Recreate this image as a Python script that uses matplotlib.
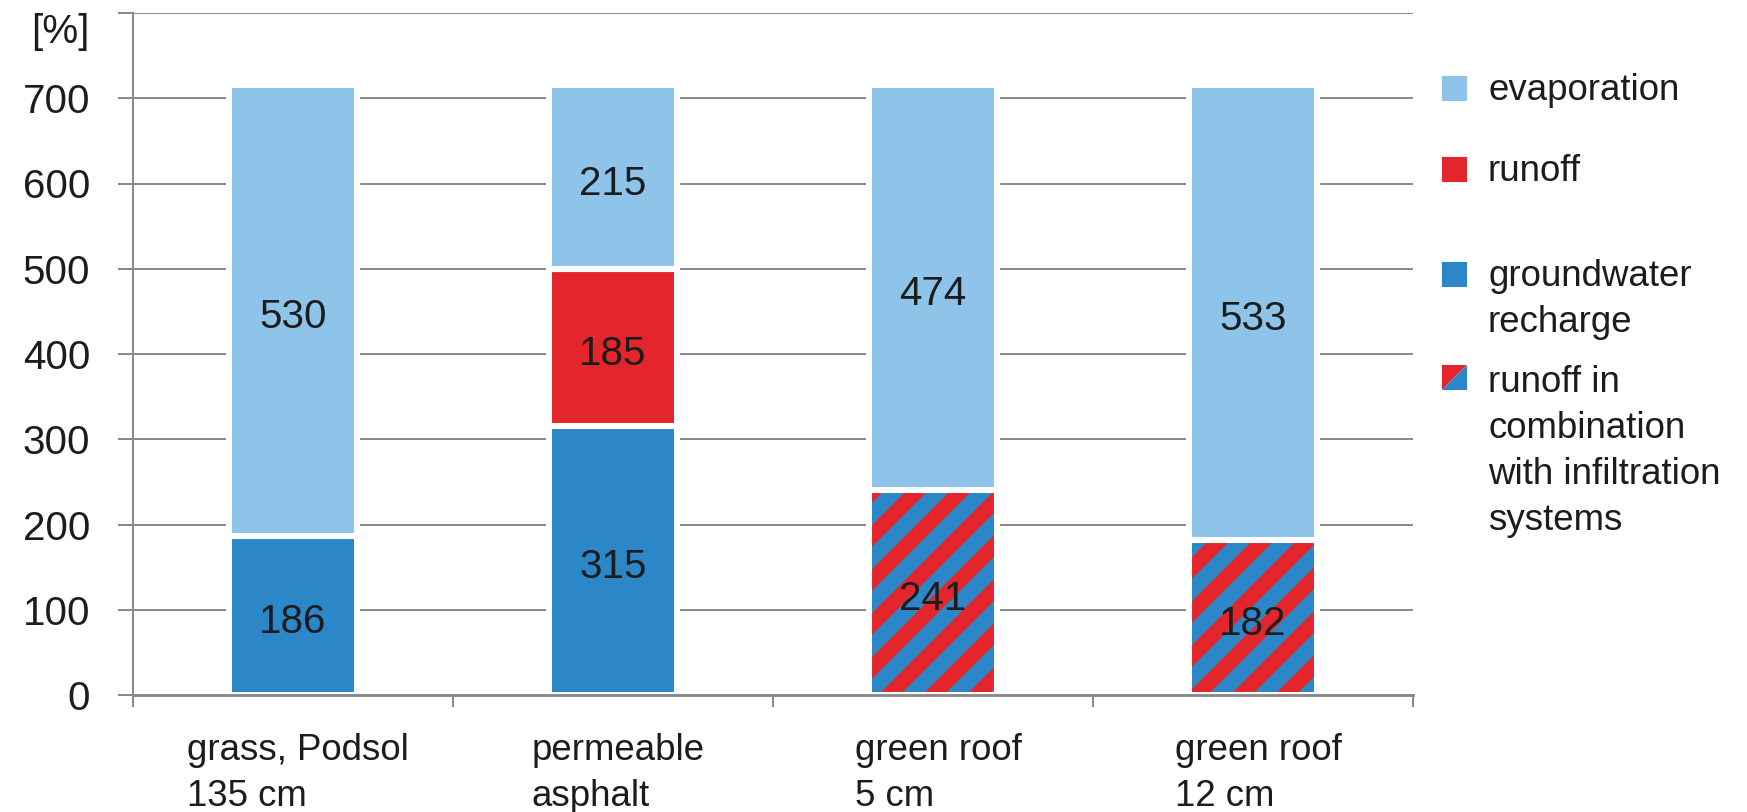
import numpy as np
import matplotlib
matplotlib.use("Agg")
import matplotlib.pyplot as plt
from matplotlib.patches import Rectangle, Polygon
from matplotlib.transforms import ScaledTranslation

# ---- data -----------------------------------------------------------
categories = ["grass, Podsol\n135 cm", "permeable\nasphalt",
              "green roof\n5 cm", "green roof\n12 cm"]
groundwater = [186, 315, 0, 0]
runoff = [0, 185, 0, 0]
runoff_infiltration = [0, 0, 241, 182]
evaporation = [530, 215, 474, 533]

legend_labels = ["evaporation", "runoff", "groundwater\nrecharge",
                 "runoff in\ncombination\nwith infiltration\nsystems"]
y_ticks = [0, 100, 200, 300, 400, 500, 600, 700, 800]
y_unit = "[%]"

# ---- style ----------------------------------------------------------
C_EVAP = "#8ec4e9"
C_RUN = "#e2262b"
C_GW = "#2b87c8"
C_GRID = "#8a8a8a"
C_TEXT = "#1c1c1c"

W, H, DPI = 1747, 812, 264
plt.rcParams["font.family"] = ["Liberation Sans", "DejaVu Sans"]
plt.rcParams["hatch.linewidth"] = 4.2

fig = plt.figure(figsize=(W / DPI, H / DPI), dpi=DPI)
fig.patch.set_facecolor("white")
ax = fig.add_axes([133 / W, 1 - 695 / H, (1413 - 133) / W, (695 - 13) / H])
ax.set_axisbelow(True)

x = np.arange(len(categories))
bw = 0.40
edge = dict(edgecolor="white", linewidth=1.65)

gw = np.array(groundwater, float)
ro = np.array(runoff, float)
ri = np.array(runoff_infiltration, float)
ev = np.array(evaporation, float)

# groundwater recharge (bottom)
ax.bar(x, gw, bw, color=C_GW, **edge, zorder=2)
# runoff stacked on groundwater
ax.bar(x, ro, bw, bottom=gw, color=C_RUN, **edge, zorder=2)
# combined runoff / infiltration: striped fill, then white outline
ax.bar(x, ri, bw, bottom=gw + ro, facecolor=C_GW, edgecolor=C_RUN,
       linewidth=0, hatch="//", zorder=2)
ax.bar(x, ri, bw, bottom=gw + ro, fill=False, **edge, zorder=2.1)
# evaporation on top
base_ev = gw + ro + ri
ax.bar(x, ev, bw, bottom=base_ev, color=C_EVAP, **edge, zorder=2)

# value labels at segment centres
num_fs = 11
for series, bottoms in [(gw, np.zeros_like(gw)), (ro, gw), (ri, gw + ro),
                        (ev, base_ev)]:
    for xi, v, b in zip(x, series, bottoms):
        if v > 0:
            ax.annotate(f"{int(v)}", (xi, b + v / 2), xytext=(0, -1.8),
                        textcoords="offset points", ha="center",
                        va="center", fontsize=num_fs, color=C_TEXT,
                        zorder=5)

# ---- axes -----------------------------------------------------------
ax.set_xlim(-0.5, len(categories) - 0.5)
ax.set_ylim(0, 800)
ax.set_yticks(y_ticks)
ax.set_yticklabels([str(t) if t < 800 else "" for t in y_ticks],
                   fontsize=num_fs, color=C_TEXT)
ax.tick_params(axis="y", length=4.1, width=0.55, color=C_GRID, pad=7.6)
ax.yaxis.grid(True, color=C_GRID, linewidth=0.55)

ax.set_xticks(x)
ax.set_xticklabels(categories, fontsize=10, color=C_TEXT,
                   multialignment="left", linespacing=1.38)
ax.set_xticks(np.arange(len(categories) + 1) - 0.5, minor=True)
ax.tick_params(axis="x", which="major", length=0, pad=10.5)
ax.tick_params(axis="x", which="minor", length=3.4, width=0.55,
               color=C_GRID)
shift = ScaledTranslation(5 / DPI, 0, fig.dpi_scale_trans)
for lbl in ax.get_xticklabels():
    lbl.set_transform(lbl.get_transform() + shift)

for s in ["top", "right"]:
    ax.spines[s].set_visible(False)
ax.spines["left"].set_color(C_GRID)
ax.spines["left"].set_linewidth(0.55)
ax.spines["bottom"].set_color(C_GRID)
ax.spines["bottom"].set_linewidth(0.8)

fig.text(90 / W, 1 - 32 / H, y_unit, ha="right", va="center",
         fontsize=num_fs, color=C_TEXT)

# ---- legend ---------------------------------------------------------
marker_y = [88, 169, 274, 377]
text_top = [73, 154, 259, 365]
sq = 25
for lab, my, ty, kind in zip(legend_labels, marker_y, text_top,
                             ["evap", "run", "gw", "mix"]):
    x0, y0 = 1442 / W, 1 - (my + sq / 2) / H
    w_, h_ = sq / W, sq / H
    if kind == "mix":
        fig.patches.append(Polygon([[x0, y0], [x0, y0 + h_], [x0 + w_, y0 + h_]],
                                   closed=True, facecolor=C_RUN,
                                   edgecolor="none",
                                   transform=fig.transFigure))
        fig.patches.append(Polygon([[x0, y0], [x0 + w_, y0], [x0 + w_, y0 + h_]],
                                   closed=True, facecolor=C_GW,
                                   edgecolor="none",
                                   transform=fig.transFigure))
    else:
        col = {"evap": C_EVAP, "run": C_RUN, "gw": C_GW}[kind]
        fig.patches.append(Rectangle((x0, y0), w_, h_, facecolor=col,
                                     edgecolor="none",
                                     transform=fig.transFigure))
    fig.text(1488 / W, 1 - ty / H, lab, ha="left", va="top",
             fontsize=10, color=C_TEXT, linespacing=1.41)

fig.savefig("out.png", dpi=DPI, facecolor="white")
